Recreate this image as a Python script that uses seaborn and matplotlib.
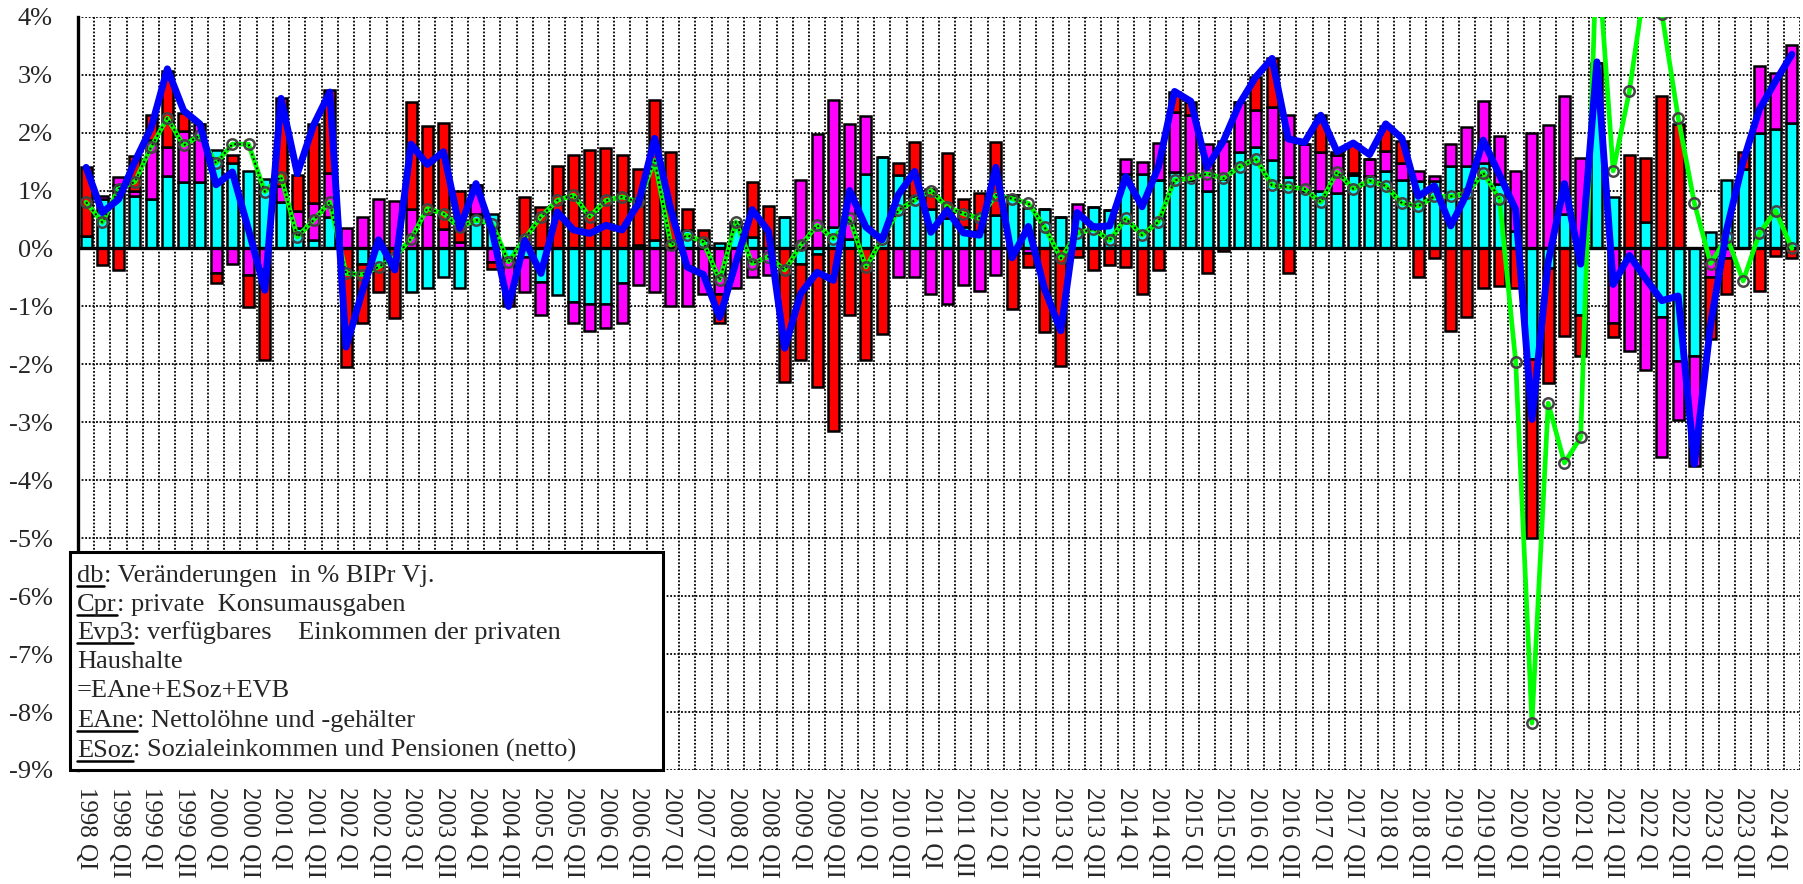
import matplotlib
matplotlib.use('Agg')
import matplotlib.pyplot as plt
from matplotlib.patches import Rectangle
from matplotlib.lines import Line2D
from matplotlib.ticker import FuncFormatter
import numpy as np
import seaborn as sns

# quarters 1998 QI .. 2024 QII
quarters = list(range(106))
tick_pos = [i for i in quarters if i % 2 == 0]
tick_labels = ['%d %s' % (1998 + i // 4, 'QI' if i % 4 == 0 else 'QII') for i in tick_pos]

# EAne: Nettolöhne (cyan)
eane = [0.22, 0.85, 1.10, 0.90, 0.85, 1.25, 1.15, 1.15, 1.70, 1.47,
        1.33, 1.20, 0.80, 0.35, 0.14, 0.55, 0.0, -0.26, -0.30, 0.0,
        -0.75, -0.69, -0.49, -0.69, 0.60, 0.60, -0.20, -0.15, -0.57, -0.80,
        -0.92, -0.96, -0.96, -0.60, 0.06, 0.14, 0.0, 0.32, 0.15, 0.09,
        0.45, 0.20, 0.0, 0.55, -0.26, -0.09, 0.37, 0.17, 1.29, 1.58,
        1.26, 0.90, 0.69, 0.52, 0.37, 0.30, 0.57, 0.92, 0.70, 0.69,
        0.55, 0.55, 0.71, 0.67, 1.29, 1.29, 1.18, 1.32, 1.18, 1.00,
        1.20, 1.67, 1.75, 1.53, 1.24, 1.00, 1.00, 0.95, 1.26, 1.25,
        1.34, 1.19, 1.16, 1.16, 1.42, 1.42, 1.47, 1.12, 0.30, -1.91,
        -0.34, 0.60, -1.14, 3.20, 0.88, 0.0, 0.45, -1.19, -1.94, -1.85,
        0.28, 1.19, 1.38, 2.00, 2.07, 2.17]
# ESoz: Sozialeinkommen (magenta)
esoz = [0.0, 0.05, 0.14, 0.10, 1.02, 0.50, 0.87, 1.00, -0.43, -0.26,
        -0.46, -0.35, 0.27, 0.30, 0.64, 0.75, 0.35, 0.55, 0.86, 0.82,
        0.69, 0.60, 0.34, 0.11, 0.50, -0.23, -0.60, -0.60, -0.58, 0.0,
        -0.36, -0.47, -0.42, -0.68, -0.63, -0.75, -1.00, -1.00, -0.78, -0.78,
        -0.69, -0.50, -0.46, 0.0, 1.18, 1.97, 2.20, 1.97, 1.00, 0.0,
        -0.49, -0.49, -0.78, -0.96, -0.63, -0.73, -0.46, 0.0, -0.08, 0.0,
        0.0, 0.22, 0.0, 0.0, 0.26, 0.20, 0.64, 1.04, 1.12, 0.80,
        0.65, 0.86, 0.64, 0.92, 1.06, 0.81, 0.67, 0.66, 0.05, 0.30,
        0.34, 0.28, 0.18, 0.09, 0.39, 0.67, 1.07, 0.82, 1.04, 2.00,
        2.13, 2.03, 1.57, 0.0, -1.29, -1.77, -2.09, -2.41, -1.02, -1.90,
        -0.50, -0.17, 0.0, 1.15, 0.95, 1.35]
# EVB (red)
evb = [1.18, -0.28, -0.37, 0.60, 0.43, 1.32, 0.31, 0.0, -0.17, 0.15,
       -0.55, -1.57, 1.53, 0.62, 1.37, 1.43, -2.05, -1.03, -0.45, -1.20,
       1.84, 1.51, 1.82, 0.89, 0.0, -0.13, -0.20, 0.89, 0.72, 1.43,
       1.61, 1.70, 1.74, 1.61, 1.31, 2.43, 1.66, 0.36, 0.17, -0.50,
       0.0, 0.95, 0.73, -2.30, -1.67, -2.30, -3.15, -1.15, -1.93, -1.47,
       0.21, 0.93, 0.34, 1.12, 0.49, 0.66, 1.26, -1.05, -0.24, -1.44,
       -2.02, -0.14, -0.37, -0.29, -0.32, -0.79, -0.37, 0.34, 0.23, -0.42,
       -0.05, 0.0, 0.57, 0.83, -0.42, 0.0, 0.63, 0.06, 0.50, 0.0,
       0.43, 0.38, -0.50, -0.17, -1.42, -1.19, -0.69, -0.65, -0.69, -3.09,
       -1.99, -1.51, -0.71, 0.0, -0.24, 1.61, 1.12, 2.63, 2.14, 0.0,
       -1.07, -0.61, 0.28, -0.73, -0.13, -0.17]
# Evp3: verfügbares Einkommen (blue line)
evp3 = [1.40, 0.62, 0.85, 1.50, 2.08, 3.10, 2.38, 2.15, 1.10, 1.32,
        0.32, -0.72, 2.59, 1.29, 2.13, 2.70, -1.70, -0.74, 0.15, -0.37,
        1.80, 1.45, 1.67, 0.35, 1.12, 0.30, -1.00, 0.14, -0.43, 0.63,
        0.32, 0.26, 0.40, 0.32, 0.78, 1.90, 0.66, -0.32, -0.45, -1.19,
        -0.24, 0.67, 0.30, -1.72, -0.77, -0.41, -0.55, 1.00, 0.37, 0.15,
        0.93, 1.33, 0.28, 0.66, 0.27, 0.23, 1.40, -0.16, 0.38, -0.70,
        -1.42, 0.62, 0.37, 0.39, 1.24, 0.72, 1.40, 2.71, 2.54, 1.40,
        1.85, 2.50, 2.96, 3.28, 1.89, 1.83, 2.30, 1.67, 1.82, 1.62,
        2.15, 1.90, 0.90, 1.08, 0.39, 0.95, 1.87, 1.27, 0.67, -2.95,
        -0.23, 1.12, -0.27, 3.22, -0.62, -0.12, -0.52, -0.90, -0.82, -3.72,
        -1.30, 0.34, 1.50, 2.40, 2.89, 3.35]
# Cpr: private Konsumausgaben (green line)
cpr = [0.80, 0.45, 1.03, 1.15, 1.75, 2.25, 1.78, 1.95, 1.47, 1.80,
       1.80, 0.98, 1.24, 0.20, 0.49, 0.80, -0.43, -0.45, -0.32, -0.15,
       0.17, 0.69, 0.60, 0.37, 0.49, 0.43, -0.23, 0.17, 0.55, 0.83,
       0.92, 0.55, 0.83, 0.89, 0.80, 1.52, 0.06, 0.23, 0.11, -0.55,
       0.46, -0.26, -0.14, -0.37, 0.06, 0.40, 0.17, 0.52, -0.32, 0.17,
       0.66, 0.83, 1.00, 0.72, 0.60, 0.52, 0.92, 0.86, 0.78, 0.37,
       -0.17, 0.26, 0.34, 0.14, 0.52, 0.23, 0.46, 1.18, 1.21, 1.29,
       1.21, 1.41, 1.55, 1.09, 1.06, 1.03, 0.80, 1.32, 1.03, 1.17,
       1.08, 0.78, 0.73, 0.90, 0.90, 0.95, 1.31, 0.86, -1.96, -8.19,
       -2.67, -3.70, -3.26, 5.30, 1.34, 2.72, 4.65, 4.05, 2.26, 0.78,
       -0.26, 0.20, -0.56, 0.26, 0.65, 0.0]

legend_lines = [
    ('db', ': Veränderungen  in % BIPr Vj.'),
    ('Cpr', ': private  Konsumausgaben'),
    ('Evp3', ': verfügbares    Einkommen der privaten'),
    ('', 'Haushalte'),
    ('', '=EAne+ESoz+EVB'),
    ('EAne', ': Nettolöhne und -gehälter'),
    ('ESoz', ': Sozialeinkommen und Pensionen (netto)'),
]

sns.set_style('white')
plt.rcParams['font.family'] = ['Liberation Serif', 'DejaVu Serif']

W, H = 1803, 884
fig = plt.figure(figsize=(W / 100, H / 100), dpi=100)
ax = fig.add_axes([78 / W, 1 - 770 / H, (1800 - 78) / W, (770 - 16.7) / H])

# stacked bars, positives up and negatives down
pos_base = np.zeros(len(quarters))
neg_base = np.zeros(len(quarters))
for vals, col in [(eane, '#00FFFF'), (esoz, '#FF00FF'), (evb, '#FF0000')]:
    v = np.array(vals)
    bottom = np.where(v >= 0, pos_base, neg_base)
    ax.bar(quarters, v, bottom=bottom, width=0.68, color=col,
           edgecolor='black', linewidth=1.8, zorder=2)
    pos_base += np.clip(v, 0, None)
    neg_base += np.clip(v, None, 0)

ax.axhline(0, color='black', lw=2.4, zorder=2.5)

sns.lineplot(x=quarters, y=cpr, color='#00FF00', linewidth=3.4, ax=ax, zorder=3,
             solid_joinstyle='round')
ax.plot(quarters[:88], cpr[:88], color='black', lw=1.4, ls=(0, (1, 1.5)), zorder=3.1)
ax.plot(quarters, cpr, ls='none', marker='o', ms=7.5, mfc='none', mec='#444444',
        mew=1.8, zorder=3.2)
sns.lineplot(x=quarters, y=evp3, color='#0000FF', linewidth=5, ax=ax, zorder=4,
             solid_joinstyle='round')

ax.set_xlim(-0.5, 105.5)
ax.set_ylim(-9, 4)
ax.set_yticks(range(-9, 5))
ax.yaxis.set_major_formatter(FuncFormatter(lambda v, p: '%d%%' % round(v)))
ax.set_xticks(tick_pos)
ax.set_xticklabels(tick_labels, rotation=270, va='top', ha='center')
ax.set_xticks(np.arange(-0.5, 106, 1), minor=True)
ax.tick_params(axis='x', which='both', length=0, labelsize=18, pad=12)
ax.tick_params(axis='y', direction='out', length=6, width=1.5, labelsize=19,
               pad=12, color='black')

ax.grid(False)
ax.grid(True, which='minor', axis='x', color='black', lw=1.3, ls=(0, (1, 1)), zorder=0.5)
ax.grid(True, which='major', axis='y', color='black', lw=1.3, ls=(0, (1, 1)), zorder=0.5)
ax.set_axisbelow(True)

for s in ['top', 'right', 'bottom']:
    ax.spines[s].set_visible(False)
ax.spines['left'].set_color('black')
ax.spines['left'].set_linewidth(2.4)

# text box with the abbreviations
fig.add_artist(Rectangle((70 / W, 1 - 770 / H), 593 / W, 218 / H, transform=fig.transFigure,
                         facecolor='white', edgecolor='black', lw=2.2, zorder=10))
renderer = fig.canvas.get_renderer()
x0 = 77 / W
baselines = [582, 611, 639, 668, 697, 727, 757]
for (head, rest), yb in zip(legend_lines, baselines):
    y = 1 - yb / H
    x = x0
    if head:
        t = fig.text(x, y, head, fontsize=19, va='baseline', ha='left', zorder=11)
        bb = t.get_window_extent(renderer)
        fig.add_artist(Line2D([bb.x0 / W, bb.x1 / W], [1 - (yb + 4) / H] * 2,
                              transform=fig.transFigure, color='black', lw=1.8, zorder=11))
        x = bb.x1 / W
    fig.text(x, y, rest, fontsize=19, va='baseline', ha='left', zorder=11)

fig.savefig('out.png', dpi=100)
